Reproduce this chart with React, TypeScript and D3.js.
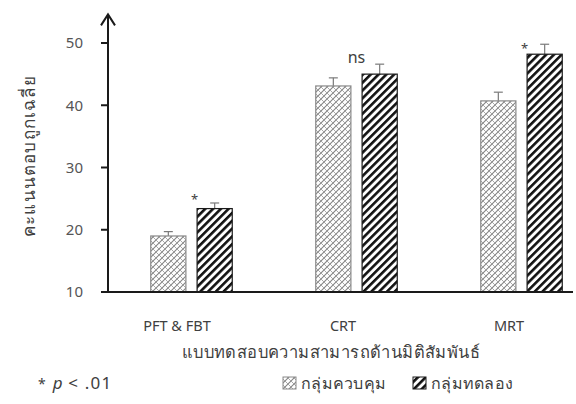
import React from "react";
import * as d3 from "d3";

const categories = ["PFT & FBT", "CRT", "MRT"];
const seriesNames = ["กลุ่มควบคุม", "กลุ่มทดลอง"];
const controlMeans = [19.0, 43.1, 40.7];
const controlErr = [0.7, 1.3, 1.4];
const expMeans = [23.4, 45.0, 48.2];
const expErr = [0.9, 1.6, 1.6];
const annotations = ["*", "ns", "*"];
const annotationLevel = [24.2, 46.8, 48.4];
const yTicks = [10, 20, 30, 40, 50];
const yLabel = "คะแนนตอบถูกเฉลี่ย";
const xLabel = "แบบทดสอบความสามารถด้านมิติสัมพันธ์";
const note = "p < .01";

const W = 576;
const H = 404;
const FONT = "'Noto Sans', 'DejaVu Sans', sans-serif";

export default function App() {
  const x0 = 108;
  const y = d3.scaleLinear().domain([10, 50]).range([292, 43]);
  const x = d3
    .scaleBand<string>()
    .domain(categories)
    .range([x0 + 1, x0 + 1 + 165 * 3])
    .paddingInner(0.5)
    .paddingOuter(0.25);
  const xs = d3
    .scaleBand<number>()
    .domain([0, 1])
    .range([0, x.bandwidth()])
    .paddingInner(0.22);
  const xl = d3
    .scaleBand<string>()
    .domain(categories)
    .range([94, 94 + 166 * 3])
    .paddingInner(0.5)
    .paddingOuter(0.25);

  const series = [
    { means: controlMeans, errs: controlErr, fill: "url(#pCtrl)", stroke: "#8a8a8a" },
    { means: expMeans, errs: expErr, fill: "url(#pExp)", stroke: "#1a1a1a" },
  ];
  const yBase = y(10);
  const yTop = y(54.6);

  return (
    <svg width={W} height={H} style={{ position: "absolute", left: 0, top: 0, background: "#fff" }}>
      <defs>
        <pattern id="pCtrl" width="6" height="6" patternUnits="userSpaceOnUse">
          <rect width="6" height="6" fill="#fff" />
          <path d="M0,6 L6,0 M-1,1 L1,-1 M5,7 L7,5" stroke="#858585" strokeWidth="1.1" />
          <path d="M0,0 L6,6 M-1,5 L1,7 M5,-1 L7,1" stroke="#a8a8a8" strokeWidth="1" />
        </pattern>
        <pattern
          id="pExp"
          width="5.5"
          height="5.5"
          patternUnits="userSpaceOnUse"
          patternTransform="rotate(45)"
        >
          <rect width="5.5" height="5.5" fill="#fff" />
          <rect width="2.6" height="5.5" fill="#111" />
        </pattern>
      </defs>

      {/* bars */}
      {series.map((s, si) =>
        categories.map((c, ci) => {
          const bx = (x(c) as number) + (xs(si) as number);
          const bw = xs.bandwidth();
          const top = y(s.means[ci]);
          const errY = y(s.means[ci] + s.errs[ci]);
          const cx = bx + bw / 2;
          return (
            <g key={`${si}-${ci}`}>
              <line x1={cx} x2={cx} y1={top} y2={errY} stroke="#7a7a7a" strokeWidth={1.2} />
              <line x1={cx - 4.5} x2={cx + 4.5} y1={errY} y2={errY} stroke="#7a7a7a" strokeWidth={1.2} />
              <rect
                x={bx + 0.5}
                y={top}
                width={bw - 1}
                height={yBase - top}
                fill={s.fill}
                stroke={s.stroke}
                strokeWidth={1.2}
              />
            </g>
          );
        })
      )}

      {/* annotations */}
      {categories.map((c, ci) => (
        <text
          key={`a${ci}`}
          x={(x(c) as number) + x.bandwidth() / 2 + (annotations[ci] === "*" ? 3 : 0)}
          y={y(annotationLevel[ci])}
          textAnchor="middle"
          fontFamily={FONT}
          fontSize={annotations[ci] === "ns" ? 16 : 13}
          fill="#404040"
        >
          {annotations[ci]}
        </text>
      ))}

      {/* y axis */}
      <line x1={x0} x2={x0} y1={yBase + 1} y2={yTop} stroke="#1a1a1a" strokeWidth={2} />
      <path
        d={`M${x0 - 7},${yTop + 11} L${x0},${yTop} L${x0 + 7},${yTop + 11}`}
        fill="none"
        stroke="#1a1a1a"
        strokeWidth={2}
      />
      {yTicks.map((t) => (
        <g key={t}>
          <line x1={x0 - 7} x2={x0} y1={y(t)} y2={y(t)} stroke="#1a1a1a" strokeWidth={2} />
          <text
            x={x0 - 25}
            y={y(t)}
            dy="0.35em"
            textAnchor="end"
            fontFamily={FONT}
            fontSize={15}
            fill="#555"
          >
            {t}
          </text>
        </g>
      ))}

      {/* x axis */}
      <line x1={x0 - 1} x2={573} y1={yBase} y2={yBase} stroke="#1a1a1a" strokeWidth={2.2} />
      {categories.map((c) => (
        <text
          key={c}
          x={(xl(c) as number) + xl.bandwidth() / 2}
          y={331}
          textAnchor="middle"
          fontFamily={FONT}
          fontSize={14.5}
          fill="#404040"
        >
          {c}
        </text>
      ))}
      <text
        x={331}
        y={358}
        textAnchor="middle"
        fontFamily={FONT}
        fontSize={16.5}
        letterSpacing={0.4}
        fill="#404040"
      >
        {xLabel}
      </text>
      <text
        transform={`translate(35,156) rotate(-90)`}
        textAnchor="middle"
        fontFamily={FONT}
        fontSize={17}
        letterSpacing={1.2}
        fill="#404040"
      >
        {yLabel}
      </text>

      {/* legend */}
      <text x={38} y={389} fontFamily={FONT} fontSize={16} fill="#404040">
        <tspan fontSize={14}>*</tspan>
        <tspan dx={7} fontStyle="italic" fontSize={17}>
          {note.slice(0, 1)}
        </tspan>
        <tspan fontSize={17} letterSpacing={1.2}>{note.slice(1)}</tspan>
      </text>
      {series.map((s, si) => {
        const lx = si === 0 ? 283 : 413;
        return (
          <g key={`l${si}`}>
            <rect x={lx} y={377} width={13} height={12} fill={s.fill} stroke={s.stroke} strokeWidth={1} />
            <text x={lx + 18} y={389} fontFamily={FONT} fontSize={16} letterSpacing={0.3} fill="#404040">
              {seriesNames[si]}
            </text>
          </g>
        );
      })}
    </svg>
  );
}
